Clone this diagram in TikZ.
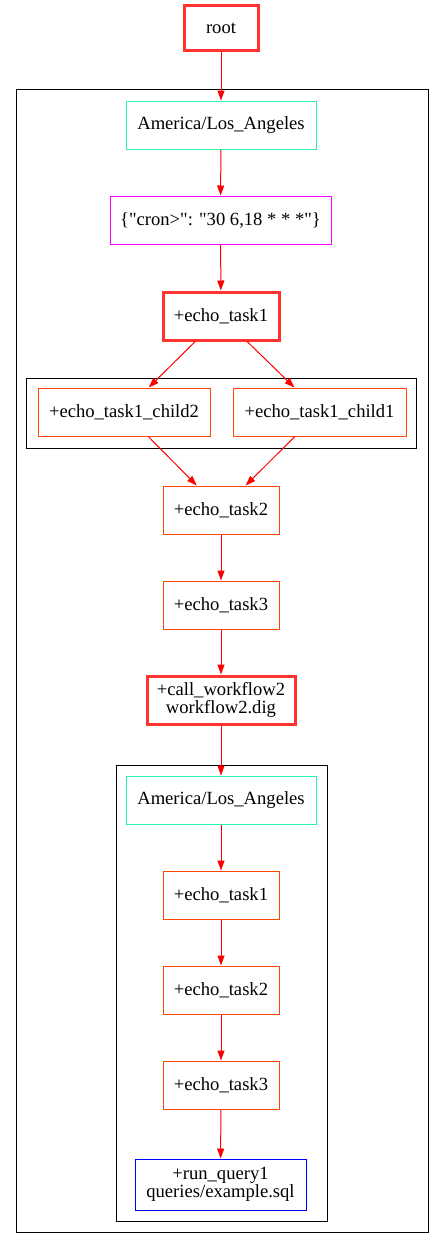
\documentclass[tikz,border=0pt]{standalone}
\usepackage{fontspec}
\setmainfont{Liberation Serif}[Ligatures=TeXOff]
\usetikzlibrary{arrows.meta}
\definecolor{tzc}{RGB}{40,245,170}
\definecolor{taskc}{RGB}{255,69,0}
\definecolor{rootc}{RGB}{255,50,50}
\definecolor{cronc}{RGB}{255,0,255}
\definecolor{qc}{RGB}{0,0,255}
\begin{document}
\begin{tikzpicture}[x=1pt,y=-1pt,
  box/.style={draw,rectangle,line width=1pt,minimum height=48pt,inner sep=2pt,align=center,font=\fontsize{18.6}{20}\selectfont},
  tz/.style={box,draw=tzc,minimum width=190pt},
  task/.style={box,draw=taskc},
  bold/.style={line width=3pt},
  cluster/.style={draw=black,line width=1pt},
  edge/.style={draw=red,line width=1pt,-{Triangle[length=10pt,width=7pt]}}]
\useasboundingbox (0,0) rectangle (444,1248);
% clusters
\draw[cluster] (16,89) rectangle (428,1232);
\draw[cluster] (26,378) rectangle (416,448);
\draw[cluster] (116,765) rectangle (327,1221);
% nodes
\node[box,draw=rootc,bold,minimum width=74pt,minimum height=45pt] (root) at (221,28) {root};
\node[tz] (tz1) at (221,125) {America/Los\_Angeles};
\node[box,draw=cronc,minimum width=221pt] (cron) at (220.5,220) {\{"cron>": "30 6,18 * * *"\}};
\node[task,draw=rootc,bold,minimum width=116pt] (t1) at (221,316) {+echo\_task1};
\node[task,minimum width=172pt] (c2) at (124,412) {+echo\_task1\_child2};
\node[task,minimum width=173pt] (c1) at (319.5,412) {+echo\_task1\_child1};
\node[task,minimum width=116pt] (t2) at (221,510) {+echo\_task2};
\node[task,minimum width=116pt] (t3) at (221,605) {+echo\_task3};
\node[task,draw=rootc,bold,minimum width=148pt] (cw) at (221,700) {+call\_workflow2\\[-2pt]workflow2.dig};
\node[tz] (tz2) at (221,800) {America/Los\_Angeles};
\node[task,minimum width=116pt] (s1) at (221,895) {+echo\_task1};
\node[task,minimum width=116pt] (s2) at (221,990) {+echo\_task2};
\node[task,minimum width=116pt] (s3) at (221,1085) {+echo\_task3};
\node[box,draw=qc,minimum width=171pt,minimum height=51pt] (q) at (220.5,1184.5) {+run\_query1\\[-2pt]queries/example.sql};
% edges
\draw[edge] (root) -- (tz1);
\draw[edge] (tz1) -- (cron);
\draw[edge] (cron) -- (t1);
\draw[edge] (t1) -- (c2);
\draw[edge] (t1) -- (c1);
\draw[edge] (c2) -- (t2);
\draw[edge] (c1) -- (t2);
\draw[edge] (t2) -- (t3);
\draw[edge] (t3) -- (cw);
\draw[edge] (cw) -- (tz2);
\draw[edge] (tz2) -- (s1);
\draw[edge] (s1) -- (s2);
\draw[edge] (s2) -- (s3);
\draw[edge] (s3) -- (q);
\end{tikzpicture}
\end{document}
